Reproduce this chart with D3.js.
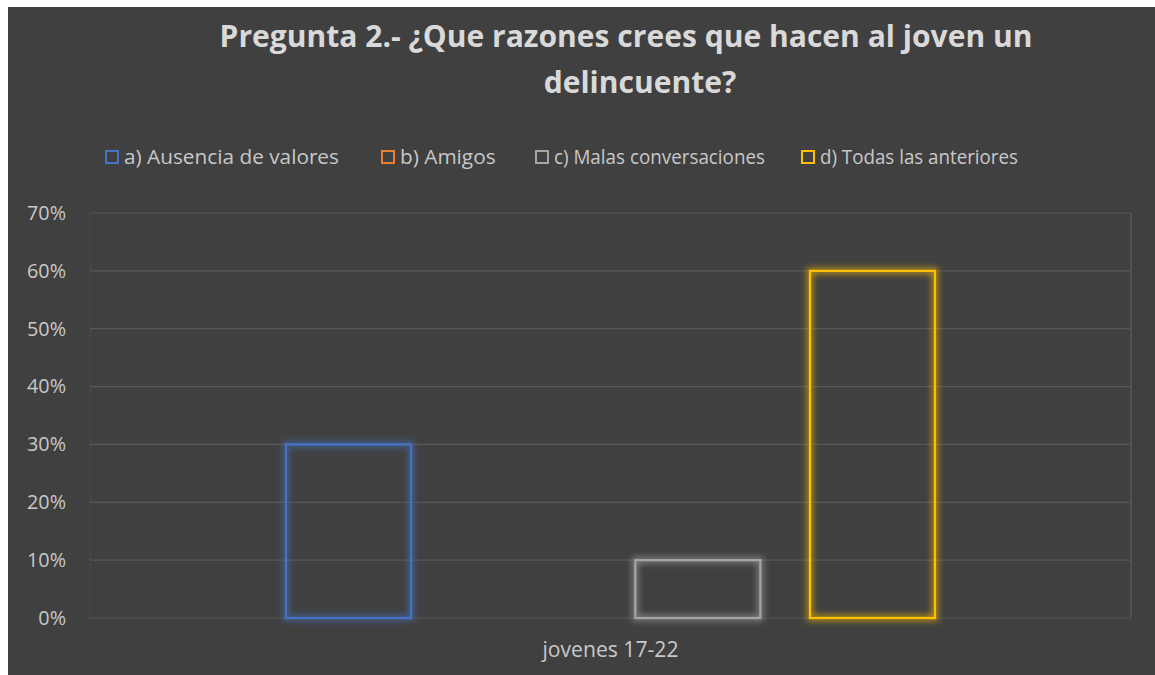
<!DOCTYPE html>
<html><head><meta charset="utf-8">
<script src="https://cdn.jsdelivr.net/npm/d3@7"></script>
<style>html,body{margin:0;padding:0;background:#fff;}svg{display:block;}</style>
</head><body>
<script>
const categories = ["jovenes 17-22"];
const seriesNames = ["a) Ausencia de valores", "b) Amigos", "c) Malas conversaciones", "d) Todas las anteriores"];
const seriesValues = [0.30, 0.00, 0.10, 0.60];
const seriesColors = ["#4472c4", "#ed7d31", "#a5a5a5", "#ffc000"];
const yTicks = [0, 0.1, 0.2, 0.3, 0.4, 0.5, 0.6, 0.7];
const titleLines = ["Pregunta 2.- ¿Que razones crees que hacen al joven un", "delincuente?"];

const W = 1155, H = 675;
const font = "'Open Sans', 'Noto Sans', sans-serif";
const svg = d3.select("body").append("svg").attr("width", W).attr("height", H);
svg.append("rect").attr("width", W).attr("height", H).attr("fill", "#ffffff");
svg.append("rect").attr("x", 8).attr("y", 7).attr("width", W - 8).attr("height", H - 7).attr("fill", "#404040");

function fit(sel, target) {
  const node = sel.node();
  const fs = parseFloat(sel.style("font-size"));
  const w = node.getComputedTextLength();
  if (w > 0) sel.style("font-size", (fs * target / w).toFixed(2) + "px");
  return fs * target / w;
}

const defs = svg.append("defs");
seriesColors.forEach((c, i) => {
  const f = defs.append("filter").attr("id", "glow" + i).attr("x", "-20%").attr("y", "-20%").attr("width", "140%").attr("height", "140%");
  f.append("feMorphology").attr("in", "SourceGraphic").attr("operator", "dilate").attr("radius", 2).attr("result", "d");
  f.append("feGaussianBlur").attr("in", "d").attr("stdDeviation", 3).attr("result", "b0");
  f.append("feComponentTransfer").attr("in", "b0").attr("result", "b")
    .append("feFuncA").attr("type", "linear").attr("slope", 0.6);
  const m = f.append("feMerge");
  m.append("feMergeNode").attr("in", "b");
  m.append("feMergeNode").attr("in", "SourceGraphic");
});

const plot = {left: 90, right: 1131, top: 213, bottom: 618};
const y = d3.scaleLinear().domain([0, 0.7]).range([plot.bottom, plot.top]);
const x0 = d3.scaleBand().domain(categories).range([plot.left, plot.right]);
const x1 = d3.scaleBand().domain(seriesNames).range([286, 935]).paddingInner(0.284);

// gridlines
svg.append("g").selectAll("line").data(yTicks).join("line")
  .attr("x1", plot.left).attr("x2", plot.right)
  .attr("y1", d => y(d)).attr("y2", d => y(d))
  .attr("stroke", "#575757").attr("stroke-width", 1.2);
svg.append("line").attr("x1", plot.left).attr("x2", plot.left).attr("y1", plot.top).attr("y2", plot.bottom).attr("stroke", "#4a4a4a");
svg.append("line").attr("x1", plot.right).attr("x2", plot.right).attr("y1", plot.top).attr("y2", plot.bottom).attr("stroke", "#575757").attr("stroke-width", 1.5);

// y axis labels
const yAxis = d3.axisLeft(y).tickValues(yTicks).tickFormat(d3.format(".0%")).tickSize(0).tickPadding(24);
const gy = svg.append("g").attr("transform", `translate(${plot.left},0)`).call(yAxis);
gy.select(".domain").remove();
gy.selectAll("text").attr("fill", "#c8c8c8").style("font-family", font).style("font-size", "18px");
const ySize = fit(gy.selectAll("text").filter(d => d === 0.7), 39);
gy.selectAll("text").style("font-size", ySize.toFixed(2) + "px");

// x axis label
const xAxis = d3.axisBottom(x0).tickSize(0);
const gx = svg.append("g").attr("transform", `translate(0,${plot.bottom})`).call(xAxis);
gx.select(".domain").remove();
gx.selectAll("text").attr("fill", "#c8c8c8").style("font-family", font).style("font-size", "18px")
  .attr("y", 39).attr("dy", null);
fit(gx.select("text"), 136);

// bars
svg.append("g").selectAll("rect").data(seriesNames.map((n, i) => ({n, v: seriesValues[i], c: seriesColors[i], i})))
  .join("rect")
  .filter(d => d.v > 0)
  .attr("x", d => x1(d.n)).attr("width", x1.bandwidth())
  .attr("y", d => y(d.v)).attr("height", d => y(0) - y(d.v))
  .attr("fill", "none").attr("stroke", d => d.c).attr("stroke-width", 2.2)
  .attr("filter", d => `url(#glow${d.i})`);

// title
const title = svg.append("text").attr("text-anchor", "middle")
  .style("font-family", font).style("font-size", "30px").style("font-weight", "bold").attr("fill", "#d9d9d9");
const t1 = title.append("tspan").attr("x", 626).attr("y", 47).text(titleLines[0]);
const tSize = fit(t1, 813);
title.style("font-size", tSize.toFixed(2) + "px");
t1.style("font-size", null);
title.append("tspan").attr("x", 640).attr("y", 93).text(titleLines[1]);

// legend
const legX = [105, 381, 535, 801];
const legW = [215, 96, 211, 198];
const lg = svg.append("g").selectAll("g").data(seriesNames).join("g")
  .attr("transform", (d, i) => `translate(${legX[i]},150)`);
lg.append("rect").attr("x", 1).attr("y", 1).attr("width", 12).attr("height", 12)
  .attr("fill", "none").attr("stroke", (d, i) => seriesColors[i]).attr("stroke-width", 2);
const lt = lg.append("text").attr("x", 19).attr("y", 14).text(d => d)
  .style("font-family", font).style("font-size", "18px").attr("fill", "#c8c8c8");
const lSize = fit(lt.filter((d, i) => i === 0), 215);
lt.style("font-size", lSize.toFixed(2) + "px");
lt.each(function(d, i) {
  const w = this.getComputedTextLength();
  if (Math.abs(w - legW[i]) > 3) d3.select(this).attr("textLength", legW[i]).attr("lengthAdjust", "spacingAndGlyphs");
});
</script>
</body></html>
